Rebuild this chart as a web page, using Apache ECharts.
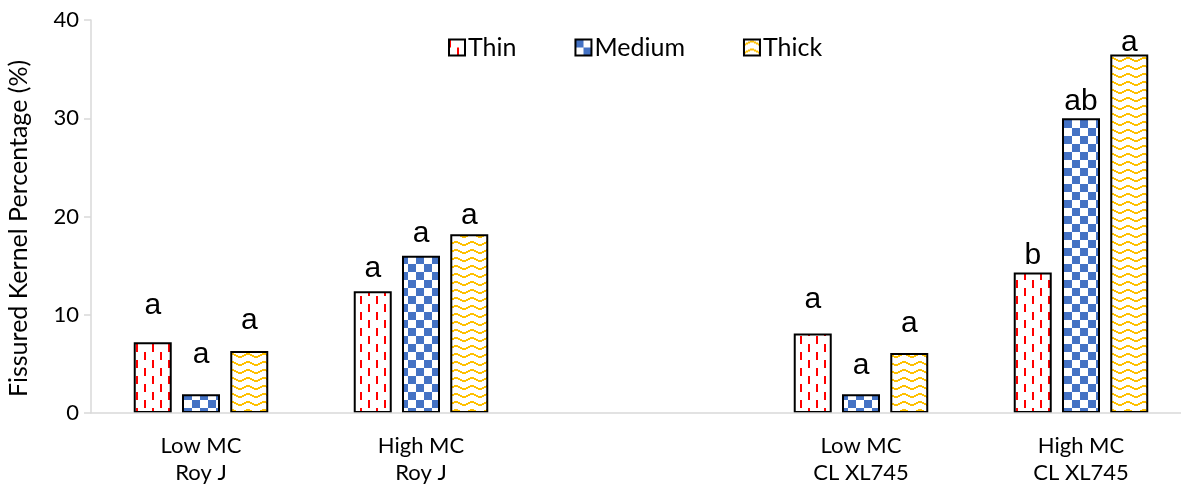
<!DOCTYPE html>
<html>
<head>
<meta charset="utf-8">
<script src="https://cdn.jsdelivr.net/npm/echarts@6/dist/echarts.min.js"></script>
<style>
  html, body { margin: 0; padding: 0; background: #fff; }
  #chart { width: 1181px; height: 485px; }
</style>
</head>
<body>
<div id="chart"></div>
<script>
// Category labels (the blank slot separates the two hybrids)
const categories = ['Low MC\nRoy J', 'High MC\nRoy J', '', 'Low MC\nCL XL745', 'High MC\nCL XL745'];
const seriesNames = ['Thin', 'Medium', 'Thick'];

// Fissured kernel percentage (%) by kernel size
const thin   = [7.2, 12.4, null, 8.1, 14.3];
const medium = [1.9, 16.0, null, 1.9, 30.0];
const thick  = [6.3, 18.2, null, 6.1, 36.5];

// Upper end of each bar's variation; significance letters sit above it
const thinUpper   = [10.3, 14.1, null, 10.9, 15.4];
const mediumUpper = [5.3, 17.6, null, 4.2, 31.1];
const thickUpper  = [8.8, 19.5, null, 8.5, 37.1];

// Significance letters
const thinLetters   = ['a', 'a', null, 'a', 'b'];
const mediumLetters = ['a', 'a', null, 'a', 'ab'];
const thickLetters  = ['a', 'a', null, 'a', 'a'];

const yTicks = { min: 0, max: 40, interval: 10 };

// Fill patterns for the bars
function makeTile(w, h, draw) {
  const c = document.createElement('canvas');
  c.width = w; c.height = h;
  const g = c.getContext('2d');
  g.fillStyle = '#ffffff';
  g.fillRect(0, 0, w, h);
  draw(g);
  return { image: c, repeat: 'repeat' };
}
const thinFill = makeTile(16, 16, g => {
  g.fillStyle = '#FF0000';
  g.fillRect(0, 0, 2, 8);
  g.fillRect(8, 8, 2, 8);
});
const mediumFill = makeTile(16, 16, g => {
  g.fillStyle = '#4472C4';
  g.fillRect(0, 0, 8, 8);
  g.fillRect(8, 8, 8, 8);
});
const thickFill = makeTile(16, 8, g => {
  g.fillStyle = '#FFC000';
  for (let x = 0; x < 16; x++) {
    const y = 1 + Math.floor(Math.abs(x - 7.5) / 2);
    g.fillRect(x, y, 1, 2);
  }
});

const fills = [thinFill, mediumFill, thickFill];
const values = [thin, medium, thick];
const uppers = [thinUpper, mediumUpper, thickUpper];
const letters = [thinLetters, mediumLetters, thickLetters];

const BAR_W = 38;
const series = [];
seriesNames.forEach((name, i) => {
  series.push({
    name: name,
    type: 'bar',
    stack: 's' + i,
    barWidth: BAR_W,
    barGap: '27%',
    data: values[i],
    itemStyle: { color: fills[i], borderColor: '#000', borderWidth: 2 },
    emphasis: { disabled: true },
    z: 2
  });
});
seriesNames.forEach((name, i) => {
  series.push({
    name: name + ' letters',
    type: 'bar',
    stack: 's' + i,
    barWidth: BAR_W,
    barGap: '27%',
    data: uppers[i].map((u, k) => (u == null || values[i][k] == null) ? null : +(u - values[i][k]).toFixed(2)),
    itemStyle: { color: 'rgba(0,0,0,0)', borderWidth: 0 },
    emphasis: { disabled: true },
    silent: true,
    label: {
      show: true,
      position: 'top',
      distance: -9,
      fontFamily: 'Liberation Sans',
      fontSize: 30,
      color: '#000',
      formatter: p => letters[i][p.dataIndex] || ''
    },
    z: 3
  });
});

const chart = echarts.init(document.getElementById('chart'), null, { renderer: 'canvas' });
chart.setOption({
  animation: false,
  backgroundColor: '#ffffff',
  grid: { left: 91, right: -10, top: 20, bottom: 72, containLabel: false, outerBoundsMode: 'none' },
  legend: {
    data: seriesNames,
    left: 443,
    top: 30,
    itemWidth: 16,
    itemHeight: 16,
    itemGap: 58,
    icon: 'rect',
    selectedMode: false,
    textStyle: { fontFamily: 'Lato', fontSize: 25, color: '#000', padding: [0, 0, 0, -2] }
  },
  xAxis: {
    type: 'category',
    data: categories,
    axisLine: { show: true, lineStyle: { color: '#D9D9D9', width: 1.5 } },
    axisTick: { show: false },
    axisLabel: {
      interval: 0,
      margin: 19,
      fontFamily: 'Lato',
      fontSize: 22,
      lineHeight: 27,
      color: '#000'
    },
    z: 5
  },
  yAxis: {
    type: 'value',
    min: yTicks.min,
    max: yTicks.max,
    interval: yTicks.interval,
    name: 'Fissured Kernel Percentage (%)',
    nameLocation: 'middle',
    nameGap: 60,
    nameRotate: 90,
    nameTextStyle: { fontFamily: 'Lato', fontSize: 25, color: '#000', padding: [0, 24, 0, 0] },
    axisLine: { show: true, lineStyle: { color: '#D9D9D9', width: 1.5 } },
    axisTick: { show: true, inside: false, length: 7, lineStyle: { color: '#D9D9D9', width: 1.5 } },
    splitLine: { show: false },
    axisLabel: { fontFamily: 'Lato', fontSize: 22, color: '#000', margin: 12 }
  },
  series: series
});
</script>
</body>
</html>
